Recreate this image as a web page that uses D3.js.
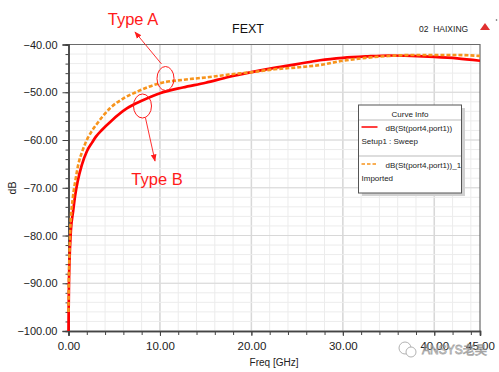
<!DOCTYPE html>
<html><head><meta charset="utf-8">
<script src="https://cdn.jsdelivr.net/npm/d3@7"></script>
<style>body{margin:0;background:#fff}svg{display:block;font-family:"Liberation Sans",Arial,sans-serif}</style>
</head><body><svg id="c" width="499" height="372"></svg>
<script>
const title = "FEXT";
const xLabel = "Freq [GHz]";
const yLabel = "dB";
const xTickLabels = [0, 10, 20, 30, 40, 45];
const yTickLabels = [-100, -90, -80, -70, -60, -50, -40];
const seriesNames = ["dB(St(port4,port1))", "dB(St(port4,port1))_1"];
const seriesSub = ["Setup1 : Sweep", "Imported"];
// Type B (solid red)
const freqB = [0, 0.02, 0.05, 0.1, 0.26, 0.5, 0.73, 1, 1.46, 2, 2.59, 3, 3.65, 4.74, 6.38, 8, 10, 12.5, 15, 17.5, 20, 22.5, 25, 27.5, 30, 32.5, 35, 37.5, 40, 42.5, 45];
const valB  = [-100, -95, -90, -86, -79, -75, -71.6, -68.7, -65.2, -62.4, -60.5, -59.3, -57.9, -55.9, -53.4, -51.8, -50.2, -49, -48, -46.8, -45.8, -44.9, -44.1, -43.3, -42.8, -42.5, -42.3, -42.4, -42.6, -42.9, -43.4];
// Type A (dashed orange)
const freqA = [0, 0.02, 0.05, 0.1, 0.19, 0.48, 0.75, 1.1, 1.5, 2, 2.56, 3, 4.56, 6, 7.47, 10, 12.5, 15, 17.5, 20, 22.5, 25, 27.5, 30, 32.5, 35, 37.5, 40, 42.5, 45];
const valA  = [-96, -92, -88, -84, -79, -72, -68.5, -64.9, -62.4, -60, -58.1, -56.9, -53.3, -51.3, -49.9, -48.1, -47.4, -46.9, -46.3, -45.8, -45.2, -44.8, -44.3, -43.4, -42.8, -42.4, -42.2, -42.2, -42.2, -42.4];

const svg = d3.select("#c");
const L = 68.5, R = 480, T = 44.5, B = 331;
const x = d3.scaleLinear().domain([0, 45]).range([L, R]);
const y = d3.scaleLinear().domain([-100, -40]).range([B, T]);

// grid
const g = svg.append("g");
const yMinor = d3.range(-100, -39.9, 2);
g.selectAll(".vg").data(d3.range(2, 45, 2)).join("line")
  .attr("x1", d => x(d)).attr("x2", d => x(d)).attr("y1", T).attr("y2", B)
  .attr("stroke", "#ececec").attr("stroke-width", 1);
g.selectAll(".vg2").data([10, 20, 30, 40]).join("line")
  .attr("x1", d => x(d)).attr("x2", d => x(d)).attr("y1", T).attr("y2", B)
  .attr("stroke", "#d8d8d8").attr("stroke-width", 1.5);
g.selectAll(".hg").data(yMinor).join("line")
  .attr("y1", d => y(d)).attr("y2", d => y(d)).attr("x1", L).attr("x2", R)
  .attr("stroke", "#ececec").attr("stroke-width", 1);
g.selectAll(".hg2").data([-90, -80, -70, -60, -50]).join("line")
  .attr("y1", d => y(d)).attr("y2", d => y(d)).attr("x1", L).attr("x2", R)
  .attr("stroke", "#d8d8d8").attr("stroke-width", 1.2);

// border top/right
svg.append("path").attr("d", `M${L},${T}H${R}V${B}`).attr("fill", "none").attr("stroke", "#6a6a6a").attr("stroke-width", 1.2);

// axes
const axFont = (sel) => sel.selectAll("text").attr("font-size", 11).attr("fill", "#222").attr("font-family", '"Liberation Sans",Arial,sans-serif');
const yMin = svg.append("g").attr("transform", `translate(${L},0)`)
  .call(d3.axisLeft(y).tickValues(yMinor).tickSize(3).tickFormat(""));
const yMaj = svg.append("g").attr("transform", `translate(${L},0)`)
  .call(d3.axisLeft(y).tickValues(yTickLabels).tickSize(6).tickPadding(5).tickFormat(d3.format(".2f")));
const xMin = svg.append("g").attr("transform", `translate(0,${B})`)
  .call(d3.axisBottom(x).tickValues(d3.range(0, 45.01, 2).concat([45])).tickSize(4).tickFormat(""));
const xMaj = svg.append("g").attr("transform", `translate(0,${B})`)
  .call(d3.axisBottom(x).tickValues(xTickLabels).tickSize(5).tickPadding(6).tickFormat(d3.format(".2f")));
[yMin, yMaj, xMin, xMaj].forEach(a => {
  a.select(".domain").attr("stroke", "#444").attr("stroke-width", 1.5);
  a.selectAll("line").attr("stroke", "#444");
  axFont(a);
});
xMaj.selectAll("text").attr("font-size", 11.5);

// curves
svg.append("clipPath").attr("id", "pc").append("rect").attr("x", L - 2).attr("y", T - 2).attr("width", R - L + 2).attr("height", B - T + 4);
const line = d3.line().x(d => x(d[0])).y(d => y(d[1])).curve(d3.curveMonotoneX);
const cg = svg.append("g").attr("clip-path", "url(#pc)");
cg.append("path").datum(freqB.map((f, i) => [f, valB[i]])).attr("d", line)
  .attr("fill", "none").attr("stroke", "#ff0000").attr("stroke-width", 2.7);
cg.append("path").datum(freqA.map((f, i) => [f, valA[i]])).attr("d", line)
  .attr("fill", "none").attr("stroke", "#f7941d").attr("stroke-width", 2.6).attr("stroke-dasharray", "4,2");

// titles
svg.append("text").attr("x", 248).attr("y", 33).attr("text-anchor", "middle").attr("font-size", 12.5).attr("fill", "#111").text(title);
svg.append("text").attr("x", 419).attr("y", 32).attr("font-size", 8.5).attr("fill", "#222").attr("xml:space", "preserve").text("02  HAIXING");
svg.append("path").attr("d", "M485,23L490,30H480Z").attr("fill", "#e03030");
svg.append("circle").attr("cx", 496.5).attr("cy", 20).attr("r", 0.8).attr("fill", "#555");
svg.append("text").attr("x", 274).attr("y", 366).attr("text-anchor", "middle").attr("font-size", 10).attr("fill", "#222").text(xLabel);
svg.append("text").attr("transform", "translate(16,188) rotate(-90)").attr("text-anchor", "middle").attr("font-size", 10.5).attr("fill", "#222").text(yLabel);

// legend
const lg = svg.append("g");
lg.append("rect").attr("x", 362).attr("y", 108).attr("width", 103).attr("height", 88).attr("fill", "#d0d0d0");
lg.append("rect").attr("x", 358.5).attr("y", 105).attr("width", 103).attr("height", 88).attr("fill", "#fff").attr("stroke", "#555").attr("stroke-width", 1);
lg.append("text").attr("x", 410).attr("y", 117).attr("text-anchor", "middle").attr("font-size", 8).attr("fill", "#222").text("Curve Info");
lg.append("line").attr("x1", 359).attr("x2", 461).attr("y1", 120).attr("y2", 120).attr("stroke", "#bbb");
lg.append("line").attr("x1", 359).attr("x2", 461).attr("y1", 156).attr("y2", 156).attr("stroke", "#bbb");
lg.append("line").attr("x1", 361.5).attr("x2", 377.5).attr("y1", 127).attr("y2", 127).attr("stroke", "#ff0000").attr("stroke-width", 1.5);
lg.append("line").attr("x1", 361.5).attr("x2", 377.5).attr("y1", 164).attr("y2", 164).attr("stroke", "#f7941d").attr("stroke-width", 1.5).attr("stroke-dasharray", "3.5,2");
lg.append("text").attr("x", 385.5).attr("y", 131).attr("font-size", 8).attr("fill", "#222").text(seriesNames[0]);
lg.append("text").attr("x", 361.5).attr("y", 143.5).attr("font-size", 8).attr("fill", "#222").text(seriesSub[0]);
lg.append("text").attr("x", 385.5).attr("y", 168).attr("font-size", 8).attr("fill", "#222").text(seriesNames[1]);
lg.append("text").attr("x", 361.5).attr("y", 180.5).attr("font-size", 8).attr("fill", "#222").text(seriesSub[1]);

// annotations
const red = "#ff1a1a";
svg.append("defs").append("marker").attr("id", "ah").attr("viewBox", "0 0 10 10").attr("refX", 9).attr("refY", 5)
  .attr("markerWidth", 8).attr("markerHeight", 8).attr("orient", "auto")
  .append("path").attr("d", "M0,1L10,5L0,9Z").attr("fill", red);
svg.append("ellipse").attr("cx", 165.5).attr("cy", 78.5).attr("rx", 8.5).attr("ry", 12).attr("fill", "none").attr("stroke", red).attr("stroke-width", 1);
svg.append("ellipse").attr("cx", 142.5).attr("cy", 106).attr("rx", 9).attr("ry", 12).attr("fill", "none").attr("stroke", red).attr("stroke-width", 1);
svg.append("line").attr("x1", 161.5).attr("y1", 64).attr("x2", 135).attr("y2", 32).attr("stroke", red).attr("stroke-width", 0.9).attr("marker-end", "url(#ah)");
svg.append("line").attr("x1", 145.5).attr("y1", 118).attr("x2", 155).attr("y2", 161).attr("stroke", red).attr("stroke-width", 0.9).attr("marker-end", "url(#ah)");
svg.append("text").attr("x", 133).attr("y", 25).attr("text-anchor", "middle").attr("font-size", 16.5).attr("fill", red).text("Type A");
svg.append("text").attr("x", 157).attr("y", 185).attr("text-anchor", "middle").attr("font-size", 16.5).attr("fill", red).text("Type B");

// watermark
const wm = svg.append("g").attr("opacity", 0.75);
wm.append("circle").attr("cx", 405).attr("cy", 348).attr("r", 6).attr("fill", "none").attr("stroke", "#999").attr("stroke-width", 1);
wm.append("circle").attr("cx", 411).attr("cy", 352).attr("r", 5).attr("fill", "#fff").attr("stroke", "#999").attr("stroke-width", 1);
wm.append("text").attr("x", 422).attr("y", 354).attr("font-size", 12).attr("fill", "#fff").attr("stroke", "#888").attr("stroke-width", 0.8).text("ANSYS老吴");
</script></body></html>
